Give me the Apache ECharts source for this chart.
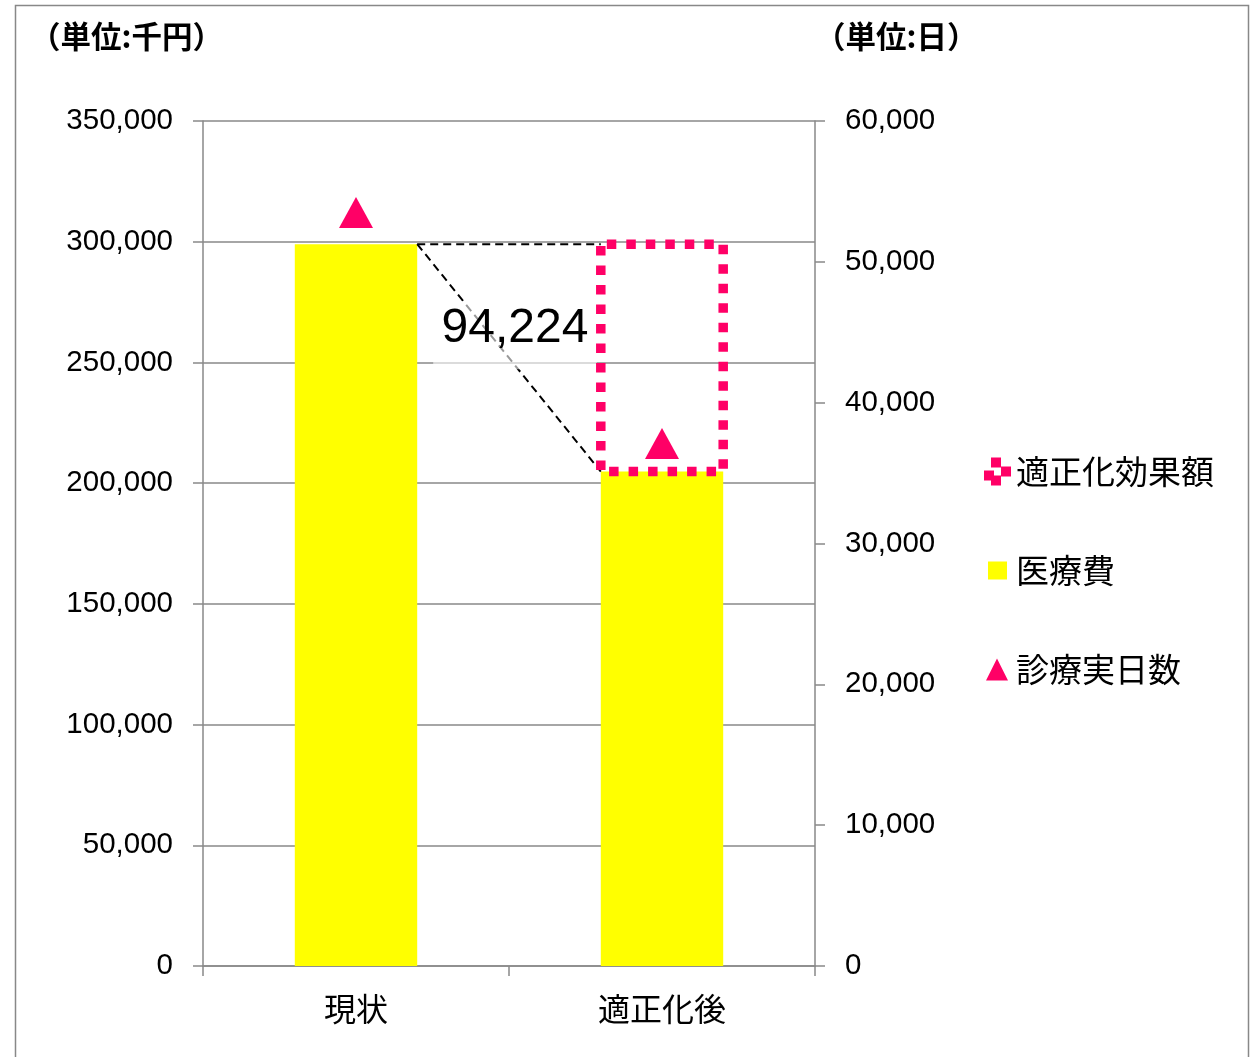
<!DOCTYPE html>
<html>
<head>
<meta charset="utf-8">
<script src="https://cdn.jsdelivr.net/npm/echarts@6/dist/echarts.min.js"></script>
<style>
html,body{margin:0;padding:0;background:#fff;}
#chart{width:1254px;height:1057px;}
</style>
</head>
<body>
<div id="chart"></div>
<script>
// ---- data ----
const categories = ['現状', '適正化後'];
const medicalCost = [299000, 204776];        // 医療費 (千円)
const effectAmount = [null, 94224];          // 適正化効果額 (千円)
const treatmentDays = [53500, 37100];        // 診療実日数 (日)
const leftTicks = { min: 0, max: 350000, interval: 50000 };
const rightTicks = { min: 0, max: 60000, interval: 10000 };

const PINK = '#FF0066';
const YELLOW = '#FFFF00';
const GRAY = '#898989';
const NUM_FONT = "'Liberation Sans', 'Noto Sans CJK JP', sans-serif";
const JP_FONT = "'Noto Sans CJK JP', 'Liberation Sans', sans-serif";
const fmt = v => Number(v).toLocaleString('en-US');
const BAR_RATIO = 0.4;

const chart = echarts.init(document.getElementById('chart'), null, { renderer: 'canvas' });

const BOX = 'M0,0h.01v.01h-.01zM27,28h-.01v-.01h.01z';
const option = {
  animation: false,
  backgroundColor: '#fff',
  grid: { left: 203, right: 439, top: 121, bottom: 91, containLabel: false },
  legend: {
    orient: 'vertical',
    left: 979,
    top: 450,
    itemWidth: 27,
    itemHeight: 28,
    itemGap: 66,
    textStyle: { fontFamily: JP_FONT, fontSize: 33, color: '#000' },
    data: [
      { name: '適正化効果額', icon: 'path://' + BOX + 'M7,0h10v10h-10zM17,9h10v10h-10zM0,13h10v10h-10zM7,18h10v10h-10z',
        itemStyle: { color: PINK, borderWidth: 0 } },
      { name: '医療費', icon: 'path://' + BOX + 'M4,5h19v18h-19z', itemStyle: { color: YELLOW, borderWidth: 0 } },
      { name: '診療実日数', icon: 'path://' + BOX + 'M13,3L24,25H2z', itemStyle: { color: PINK, borderWidth: 0 } }
    ]
  },
  xAxis: {
    type: 'category',
    data: categories,
    axisLine: { show: true, lineStyle: { color: GRAY, width: 1.5 } },
    axisTick: { show: true, length: 10, lineStyle: { color: GRAY, width: 1.5 } },
    axisLabel: { fontFamily: JP_FONT, fontSize: 32, color: '#000', margin: 27 }
  },
  yAxis: [
    {
      type: 'value',
      min: leftTicks.min, max: leftTicks.max, interval: leftTicks.interval,
      axisLine: { show: true, lineStyle: { color: GRAY, width: 1.5 } },
      axisTick: { show: true, length: 10, lineStyle: { color: GRAY, width: 1.5 } },
      splitLine: { show: true, lineStyle: { color: GRAY, width: 1.5 } },
      axisLabel: { fontFamily: NUM_FONT, fontSize: 29.5, color: '#000', margin: 30, formatter: fmt }
    },
    {
      type: 'value',
      position: 'right',
      min: rightTicks.min, max: rightTicks.max, interval: rightTicks.interval,
      axisLine: { show: true, lineStyle: { color: GRAY, width: 1.5 } },
      axisTick: { show: true, length: 10, lineStyle: { color: GRAY, width: 1.5 } },
      splitLine: { show: false },
      axisLabel: { fontFamily: NUM_FONT, fontSize: 29.5, color: '#000', margin: 30, formatter: fmt }
    }
  ],
  series: [
    {
      name: '医療費',
      type: 'bar',
      stack: 'cost',
      barWidth: (BAR_RATIO * 100) + '%',
      data: medicalCost,
      itemStyle: { color: YELLOW },
      z: 2
    },
    {
      name: '適正化効果額',
      type: 'bar',
      stack: 'cost',
      barWidth: (BAR_RATIO * 100) + '%',
      data: effectAmount,
      itemStyle: { color: 'rgba(255,255,255,0)', borderWidth: 0 },
      z: 3
    },
    {
      name: '診療実日数',
      type: 'line',
      yAxisIndex: 1,
      data: treatmentDays,
      symbol: 'triangle',
      symbolSize: [34, 31],
      itemStyle: { color: PINK },
      lineStyle: { width: 0, opacity: 0 },
      z: 6
    },
    {
      name: 'guide',
      type: 'custom',
      silent: true,
      z: 4,
      data: [[0, medicalCost[0], 1, medicalCost[1], effectAmount[1]]],
      renderItem: function (params, api) {
        const p0 = api.coord([api.value(0), api.value(1)]);
        const p1 = api.coord([api.value(2), api.value(3)]);
        const pTop = api.coord([api.value(2), api.value(3) + api.value(4)]);
        const band = api.size([1, 0])[0];
        const barW = band * BAR_RATIO;
        const x0 = p0[0] + barW / 2;
        const x1 = p1[0] - barW / 2;
        const y0 = p0[1];
        const y1 = p1[1];
        const ls = { stroke: '#000', lineWidth: 2, lineDash: [8, 5] };
        const tx = (x0 + x1) / 2 + 6;
        const ty = y0 + (y1 - y0) * 0.37;
        return {
          type: 'group',
          children: [
            { type: 'line', shape: { x1: x0, y1: y0, x2: x1, y2: y0 }, style: ls },
            { type: 'line', shape: { x1: x0, y1: y0, x2: x1, y2: y1 }, style: ls },
            { type: 'rect', shape: { x: x0 + 16, y: ty - 27, width: x1 - x0 - 20, height: 68 },
              style: { fill: 'rgba(255,255,255,0.6)' } },
            { type: 'text', x: tx, y: ty,
              style: { text: fmt(api.value(4)), fontFamily: NUM_FONT, fontSize: 48, fill: '#000',
                       align: 'center', verticalAlign: 'middle' } },
            { type: 'rect', z2: 10,
              shape: { x: x1, y: pTop[1], width: barW, height: y1 - pTop[1] },
              style: { fill: null, stroke: PINK, lineWidth: 9.5, lineDash: [9.5, 10], lineDashOffset: 13.5 } }
          ]
        };
      }
    }
  ],
  graphic: [
    { type: 'rect', shape: { x: 15.5, y: 5.5, width: 1233, height: 1100 },
      style: { fill: null, stroke: '#888', lineWidth: 1.5 }, silent: true, z: 0 },
    { type: 'text', left: 30, top: 21,
      style: { text: '（単位:千円）', fontFamily: JP_FONT, fontSize: 30.5, fontWeight: 'bold', fill: '#000' } },
    { type: 'text', left: 815, top: 21,
      style: { text: '（単位:日）', fontFamily: JP_FONT, fontSize: 30.5, fontWeight: 'bold', fill: '#000' } }
  ]
};
chart.setOption(option);
</script>
</body>
</html>
